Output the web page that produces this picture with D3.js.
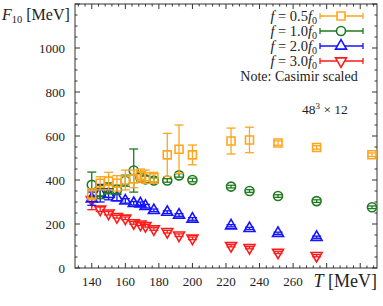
<!DOCTYPE html>
<html>
<head>
<meta charset="utf-8">
<script src="https://cdn.jsdelivr.net/npm/d3@7"></script>
<style>
  body { margin: 0; background: #fff; }
</style>
</head>
<body>
<div id="chart"></div>
<script>
// temperatures (MeV)
const temps = [140, 145, 150, 155, 160, 165, 169, 172, 177, 185, 192, 200, 223, 234, 251, 274, 307];

// F10 [MeV] for each f, with errors
const f05 = [335, 385, 395, 385, 400, 405, 420, 415, 410, 514, 540, 514, 577, 582, 568, 548, 515];
const f05Err = [25, 30, 40, 35, 45, 40, 30, 30, 25, 98, 110, 45, 59, 58, 10, 8, 8];
const f10 = [378, 345, 362, 356, 397, 443, 410, 403, 398, 398, 421, 400, 370, 350, 327, 304, 276];
const f10Err = [58, 30, 25, 20, 25, 98, 20, 15, 12, 8, 8, 8, 6, 6, 6, 6, 6];
const f20 = [315, 340, 335, 320, 305, 294, 292, 281, 262, 254, 241, 223, 192, 180, 158, 140, null];
const f20Err = [30, 40, 25, 15, 10, 8, 8, 8, 6, 6, 6, 6, 5, 5, 5, 5, null];
const f30 = [310, 267, 249, 233, 226, 205, 199, 192, 177, 165, 149, 135, 101, 92, 71, 56, null];
const f30Err = [45, 10, 8, 6, 6, 6, 6, 6, 6, 6, 6, 6, 5, 5, 5, 5, null];

const xTicks = [140, 160, 180, 200, 220, 240, 260];
const yTicks = [0, 200, 400, 600, 800, 1000];

const series = [
  { label: "0.5", values: f05, errs: f05Err, color: "#ffa51f", shape: "square" },
  { label: "1.0", values: f10, errs: f10Err, color: "#1f7a1f", shape: "circle" },
  { label: "2.0", values: f20, errs: f20Err, color: "#1414ff", shape: "up" },
  { label: "3.0", values: f30, errs: f30Err, color: "#ff1a1a", shape: "down" }
];

const serif = "Liberation Serif";

let width = 383, height = 306;
let margin = { top: 4, right: 6, bottom: 38, left: 75 };
let w = width - margin.left - margin.right,
  h = height - margin.top - margin.bottom;

const svg = d3.select("#chart").append("svg")
  .attr("width", width)
  .attr("height", height);

const g = svg.append("g")
  .attr("transform", "translate(" + margin.left + "," + margin.top + ")");

const x = d3.scaleLinear().domain([130, 310]).range([0, w]);
const y = d3.scaleLinear().domain([0, 1200]).range([h, 0]);

// frame
g.append("rect")
  .attr("width", w).attr("height", h)
  .attr("fill", "none").attr("stroke", "#333").attr("stroke-width", 1);

// ticks on all sides, pointing inward
const xMinor = d3.range(132, 310, 4).filter(v => v % 20 !== 0);
const yMinor = d3.range(50, 1200, 50).filter(v => v % 200 !== 0);
const xMajor = d3.range(140, 310, 20);
const yMajor = d3.range(0, 1201, 200);

function tickLines(vals, len, horizontal) {
  vals.forEach(function(v) {
    if (horizontal) {
      const px = x(v);
      g.append("line").attr("x1", px).attr("x2", px).attr("y1", h).attr("y2", h - len);
      g.append("line").attr("x1", px).attr("x2", px).attr("y1", 0).attr("y2", len);
    } else {
      const py = y(v);
      g.append("line").attr("x1", 0).attr("x2", len).attr("y1", py).attr("y2", py);
      g.append("line").attr("x1", w).attr("x2", w - len).attr("y1", py).attr("y2", py);
    }
  });
}
tickLines(xMajor, 5, true);
tickLines(xMinor, 2.5, true);
tickLines(yMajor, 5, false);
tickLines(yMinor, 2.5, false);
g.selectAll("line").attr("stroke", "#333").attr("stroke-width", 1);

// tick labels
g.selectAll(".xlab").data(xTicks).enter().append("text")
  .attr("x", d => x(d)).attr("y", h + 18)
  .attr("text-anchor", "middle")
  .style("font-family", serif).style("font-size", "13px").attr("fill", "#222")
  .text(d => d);
g.selectAll(".ylab").data(yTicks).enter().append("text")
  .attr("x", -10).attr("y", d => y(d) + 4.5)
  .attr("text-anchor", "end")
  .style("font-family", serif).style("font-size", "13px").attr("fill", "#222")
  .text(d => d);

// axis titles
const yt = svg.append("text").attr("x", 2).attr("y", 20)
  .style("font-family", serif).style("font-size", "16px").attr("fill", "#222");
yt.append("tspan").style("font-style", "italic").text("F");
yt.append("tspan").attr("dy", 3).style("font-size", "10.5px").text("10");
yt.append("tspan").attr("dy", -3).text(" [MeV]");

const xt = svg.append("text").attr("x", 377).attr("y", 287)
  .attr("text-anchor", "end")
  .style("font-family", serif).style("font-size", "18px").attr("fill", "#222");
xt.append("tspan").style("font-style", "italic").text("T");
xt.append("tspan").text(" [MeV]");

function symbolPath(shape) {
  if (shape === "square") return d3.symbol(d3.symbolSquare, 64)();
  if (shape === "circle") return d3.symbol(d3.symbolCircle, 64)();
  return d3.symbol(d3.symbolTriangle, 52)();
}

function drawPoint(sel, px, py, lo, hi, s) {
  const cap = 4.5;
  sel.append("line").attr("x1", px).attr("x2", px).attr("y1", lo).attr("y2", hi);
  sel.append("line").attr("x1", px - cap).attr("x2", px + cap).attr("y1", lo).attr("y2", lo);
  sel.append("line").attr("x1", px - cap).attr("x2", px + cap).attr("y1", hi).attr("y2", hi);
  sel.selectAll("line").attr("stroke", s.color).attr("stroke-width", 1.3);
  sel.append("path")
    .attr("d", symbolPath(s.shape))
    .attr("transform", "translate(" + px + "," + py + ")" + (s.shape === "down" ? " rotate(180)" : ""))
    .attr("fill", "none")
    .attr("stroke", s.color)
    .attr("stroke-width", 1.6);
}

// draw back to front: red first so orange sits on top
series.slice().reverse().forEach(function(s) {
  const pts = g.append("g");
  temps.forEach(function(t, i) {
    if (s.values[i] == null) return;
    const v = s.values[i], e = s.errs[i];
    drawPoint(pts.append("g"), x(t), y(v), y(v - e), y(v + e), s);
  });
});

// legend
series.forEach(function(s, i) {
  const ly = 16 + i * 15;
  const t = svg.append("text").attr("x", 317).attr("y", ly + 4.5)
    .attr("text-anchor", "end")
    .style("font-family", serif).style("font-size", "14.5px").attr("fill", "#222");
  t.append("tspan").style("font-style", "italic").text("f");
  t.append("tspan").text(" = " + s.label);
  t.append("tspan").style("font-style", "italic").text("f");
  t.append("tspan").attr("dy", 3).style("font-size", "10px").text("0");

  const lg = svg.append("g");
  lg.append("line").attr("x1", 320).attr("x2", 363).attr("y1", ly).attr("y2", ly);
  lg.append("line").attr("x1", 320).attr("x2", 320).attr("y1", ly - 3).attr("y2", ly + 3);
  lg.append("line").attr("x1", 363).attr("x2", 363).attr("y1", ly - 3).attr("y2", ly + 3);
  lg.selectAll("line").attr("stroke", s.color).attr("stroke-width", 1.3);
  lg.append("path")
    .attr("d", symbolPath(s.shape))
    .attr("transform", "translate(341," + ly + ")" + (s.shape === "down" ? " rotate(180)" : ""))
    .attr("fill", "#fff").attr("stroke", s.color).attr("stroke-width", 1.6);
});

svg.append("text").attr("x", 299).attr("y", 81)
  .attr("text-anchor", "middle")
  .style("font-family", serif).style("font-size", "14px").attr("fill", "#222")
  .text("Note: Casimir scaled");

const lat = svg.append("text").attr("x", 302).attr("y", 114)
  .style("font-family", serif).style("font-size", "13.5px").attr("fill", "#222");
lat.append("tspan").text("48");
lat.append("tspan").attr("dy", -5).style("font-size", "9px").text("3");
lat.append("tspan").attr("dy", 5).text(" × 12");
</script>
</body>
</html>
